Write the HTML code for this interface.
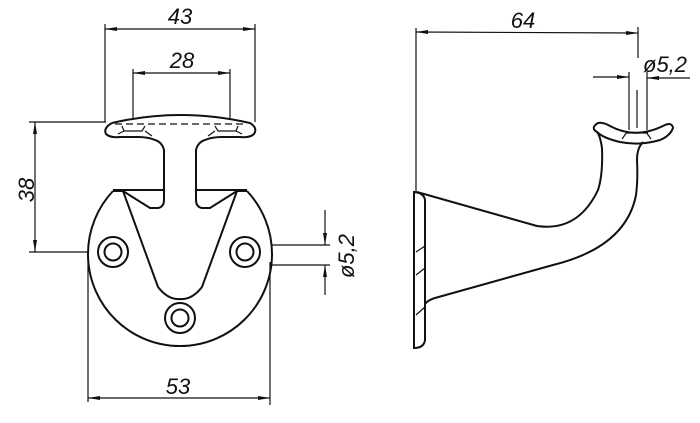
<!DOCTYPE html>
<html><head><style>html,body{margin:0;padding:0;background:#fff}svg{display:block}
text{font-family:"Liberation Sans",sans-serif;font-style:italic;font-size:22px;fill:#111}</style></head>
<body>
<svg width="700" height="423" viewBox="0 0 700 423" xmlns="http://www.w3.org/2000/svg">
<defs>
<marker id="a" viewBox="0 0 12 6" refX="12" refY="3" markerWidth="12" markerHeight="6" orient="auto-start-reverse" markerUnits="userSpaceOnUse"><path d="M0,1 L12,3 L0,5 z" fill="#111"/></marker>
</defs>
<g stroke="#111" fill="none" stroke-width="1.2">
<line x1="105" y1="24" x2="105" y2="122"/><line x1="255" y1="24" x2="255" y2="122"/>
<line x1="105" y1="29" x2="255" y2="29" marker-start="url(#a)" marker-end="url(#a)"/>
<line x1="133" y1="69" x2="133" y2="118"/><line x1="230" y1="69" x2="230" y2="118"/>
<line x1="133" y1="73" x2="230" y2="73" marker-start="url(#a)" marker-end="url(#a)"/>
<line x1="29" y1="122" x2="106" y2="122"/><line x1="29" y1="252" x2="88" y2="252"/>
<line x1="35" y1="122" x2="35" y2="252" marker-start="url(#a)" marker-end="url(#a)"/>
<line x1="88" y1="255" x2="88" y2="402"/><line x1="270" y1="262" x2="270" y2="405"/>
<line x1="88" y1="398" x2="270" y2="398" marker-start="url(#a)" marker-end="url(#a)"/>
<line x1="272" y1="245" x2="330" y2="245"/><line x1="272" y1="265" x2="330" y2="265"/>
<line x1="325" y1="210" x2="325" y2="245" marker-end="url(#a)"/>
<line x1="325" y1="295" x2="325" y2="265" marker-end="url(#a)"/>
</g>
<g stroke="#111" fill="none" stroke-width="2">
<path d="M112,123 Q180,107 250,123 Q258,128 254,134 Q250,138 240,137 L222,137 Q212,137 205,140 Q198,142 196,150 L196,200 Q196,207 202,208 L210,208 L237,191 L247,191"/>
<path d="M112,123 Q103,128 106,134 Q110,138 120,137 L138,137 Q148,137 155,140 Q162,142 164,150 L164,200 Q164,207 158,208 L150,208 L123,191 L113,191"/>
<path d="M113,191 A92,92 0 1 0 247,191"/>
<path d="M123,191 L158,287 Q168,300 180,299 Q192,300 202,287 L237,191"/>
<line x1="113" y1="190" x2="164" y2="190"/><line x1="196" y1="190" x2="247" y2="190"/>
<circle cx="113" cy="252" r="15"/><circle cx="113" cy="252" r="8.5"/>
<circle cx="245" cy="252" r="15"/><circle cx="245" cy="252" r="8.5"/>
<circle cx="180" cy="318" r="15"/><circle cx="180" cy="318" r="8.5"/>
</g>
<g stroke="#111" fill="none" stroke-width="1.2">
<line x1="115" y1="124" x2="245" y2="124" stroke-dasharray="7,4"/>
<path d="M122,126 L124,131 L142,131 L145,126 M118,134 L124,131 M145,131 L152,136"/>
<path d="M238,126 L236,131 L218,131 L215,126 M242,134 L236,131 M215,131 L208,136"/>
<line x1="416" y1="28" x2="416" y2="192"/><line x1="638" y1="27" x2="638" y2="58"/>
<line x1="416" y1="32" x2="638" y2="33" marker-start="url(#a)" marker-end="url(#a)"/>
<line x1="593" y1="77" x2="629" y2="77" marker-end="url(#a)"/>
<line x1="690" y1="78" x2="647" y2="78" marker-end="url(#a)"/>
<line x1="629" y1="72" x2="629" y2="130"/><line x1="647" y1="72" x2="647" y2="130"/>
<line x1="637" y1="90" x2="637" y2="128"/>
<path d="M626,133 L648,133 M622,139 L627,132 M651,139 L646,132"/>
<path d="M416,252 L425,246 M416,275 L425,268 M416,315 L425,307" />
</g>
<g stroke="#111" fill="none" stroke-width="2">
<path d="M414,192 L414,348 Q424,348 425,340 L425,200 Q424,193 414,192 Z"/>
<path d="M417,192 L537,226 Q578,232 598,190 Q603,175 602,148 Q600,135 597,132"/>
<path d="M425,304 Q428,300 435,298 L553,265 Q626,247 636,195 Q638,180 637,160 Q637,148 643,142"/>
<path d="M597,132 Q590,128 598,123 Q603,122 610,126 Q636,140 665,125 Q672,122 673,128 Q670,136 660,140 Q640,146 620,142 Q603,138 597,132 Z"/>
</g>
<text x="180" y="24" text-anchor="middle">43</text>
<text x="182" y="68" text-anchor="middle">28</text>
<text x="178" y="394" text-anchor="middle">53</text>
<text x="523" y="28" text-anchor="middle">64</text>
<text x="643" y="72">ø5,2</text>
<text transform="translate(34,190) rotate(-90)" text-anchor="middle">38</text>
<text transform="translate(354,256) rotate(-90)" text-anchor="middle">ø5,2</text>
</svg>
</body></html>
